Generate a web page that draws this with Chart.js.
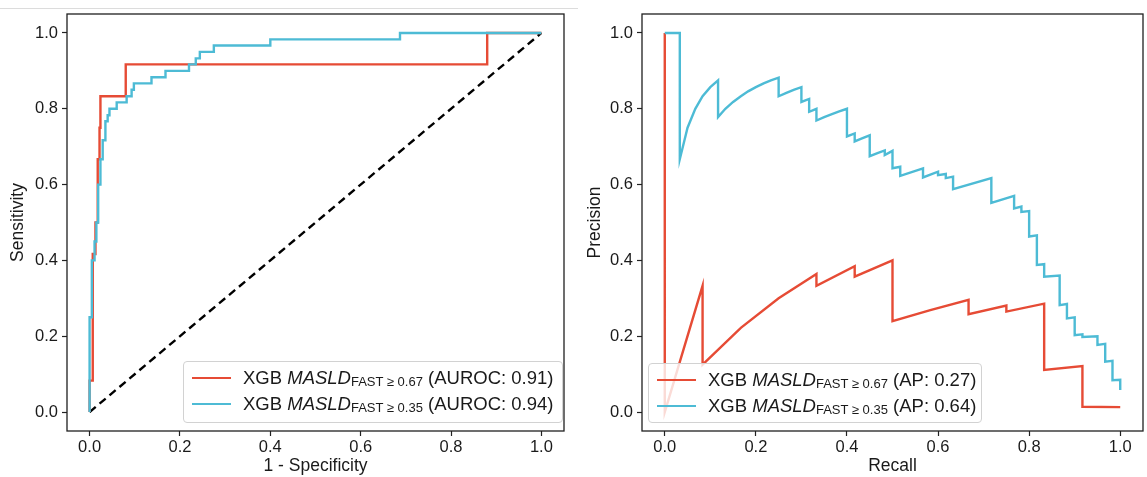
<!DOCTYPE html>
<html lang="en">
<head>
  <meta charset="UTF-8">
  <title>ROC and PR curves</title>
  <script src="https://cdn.jsdelivr.net/npm/chart.js"></script>
  <style>
    body { margin: 0; background: #fff; font-family: "Liberation Sans", Arial, sans-serif; }
    #wrap { position: relative; width: 1147px; height: 477px; overflow: hidden; }
    canvas { position: absolute; top: 0; }
    #rocChart { left: 0; }
    #prChart { left: 575px; }
    .topline { position: absolute; left: 0; top: 8px; width: 578px; height: 1px; background: #dcdcdc; }
    .legend { position: absolute; box-sizing: border-box; border: 1px solid #d2d2d2; border-radius: 4px;
              background: rgba(255, 255, 255, 0.8); color: #1a1a1a; font-size: 18.5px; z-index: 2; }
    .legend .row { position: absolute; left: 0; right: 0; height: 26px; }
    .legend .sw { position: absolute; left: 8px; top: 12px; width: 39px; height: 2.4px; }
    .legend .txt { position: absolute; top: 0; line-height: 26px; white-space: nowrap; }
    .legend sub { font-size: 13px; vertical-align: baseline; position: relative; top: 2px; line-height: 0; }
  </style>
</head>
<body>
  <div id="wrap">
    <div class="topline"></div>
    <canvas id="rocChart" width="575" height="477"></canvas>
    <canvas id="prChart" width="572" height="477"></canvas>
    <div class="legend" id="rocLegend" style="left:183px; top:361px; width:380px; height:62px;"></div>
    <div class="legend" id="prLegend" style="left:648px; top:363px; width:334px; height:60px;"></div>
  </div>
  <script>
    // axis ticks
    const tickValues = [0, 0.2, 0.4, 0.6, 0.8, 1.0];

    // series labels
    const seriesThresholds = ['0.67', '0.35'];
    const aurocValues = ['0.91', '0.94'];
    const apValues = ['0.27', '0.64'];
    const seriesColors = ['#E64B35', '#4DBBD5'];

    // ROC, MASLD FAST >= 0.67
    const rocFprA = [0, 0, 0.007, 0.007, 0.013, 0.013, 0.018, 0.018, 0.022, 0.022, 0.024, 0.024, 0.08, 0.08, 0.88, 0.88, 1];
    const rocTprA = [0, 0.083, 0.083, 0.417, 0.417, 0.5, 0.5, 0.667, 0.667, 0.75, 0.75, 0.833, 0.833, 0.917, 0.917, 1, 1];

    // ROC, MASLD FAST >= 0.35
    const rocFprB = [0, 0, 0.005, 0.005, 0.011, 0.011, 0.015, 0.015, 0.019, 0.019, 0.024, 0.024, 0.029, 0.029,
      0.035, 0.035, 0.04, 0.04, 0.044, 0.044, 0.06, 0.06, 0.082, 0.082, 0.093, 0.093, 0.098, 0.098,
      0.137, 0.137, 0.168, 0.168, 0.22, 0.22, 0.235, 0.235, 0.244, 0.244, 0.275, 0.275, 0.4, 0.4, 0.687, 0.687, 1];
    const rocTprB = [0, 0.25, 0.25, 0.4, 0.4, 0.45, 0.45, 0.5, 0.5, 0.6, 0.6, 0.667, 0.667, 0.717,
      0.717, 0.767, 0.767, 0.783, 0.783, 0.8, 0.8, 0.817, 0.817, 0.833, 0.833, 0.85, 0.85, 0.867,
      0.867, 0.883, 0.883, 0.9, 0.9, 0.917, 0.917, 0.933, 0.933, 0.95, 0.95, 0.967, 0.967, 0.983, 0.983, 1, 1];

    // chance line
    const diagX = [0, 1];
    const diagY = [0, 1];

    // PR, MASLD FAST >= 0.67
    const prRecallA = [0, 0, 0.083, 0.083, 0.167, 0.25, 0.333, 0.333, 0.417, 0.417, 0.5, 0.5, 0.583, 0.667,
      0.667, 0.75, 0.75, 0.833, 0.833, 0.917, 0.917, 1];
    const prPrecA = [1, 0, 0.333, 0.125, 0.222, 0.3, 0.364, 0.333, 0.385, 0.357, 0.4, 0.24, 0.269, 0.296,
      0.258, 0.281, 0.265, 0.286, 0.111, 0.121, 0.014, 0.013];

    // PR, MASLD FAST >= 0.35
    const prRecallB = [0, 0.033, 0.033, 0.05, 0.067, 0.083, 0.1, 0.117, 0.117, 0.133, 0.15, 0.167, 0.183, 0.2,
      0.217, 0.233, 0.25, 0.25, 0.267, 0.283, 0.3, 0.3, 0.317, 0.317, 0.333, 0.333, 0.35, 0.367, 0.383, 0.4,
      0.4, 0.417, 0.417, 0.433, 0.45, 0.45, 0.467, 0.483, 0.483, 0.5, 0.5, 0.517, 0.517, 0.567, 0.567,
      0.6, 0.6, 0.617, 0.617, 0.633, 0.633, 0.717, 0.717, 0.767, 0.767, 0.783, 0.783, 0.8, 0.8, 0.817, 0.817,
      0.833, 0.833, 0.867, 0.867, 0.883, 0.883, 0.9, 0.9, 0.917, 0.917, 0.95, 0.95, 0.967, 0.967, 0.983, 0.983, 1, 1];
    const prPrecB = [1, 1, 0.667, 0.75, 0.8, 0.833, 0.857, 0.875, 0.778, 0.8, 0.818, 0.833, 0.846, 0.857,
      0.867, 0.875, 0.882, 0.833, 0.842, 0.85, 0.857, 0.818, 0.826, 0.792, 0.8, 0.769, 0.778, 0.786, 0.793, 0.8,
      0.727, 0.735, 0.714, 0.722, 0.73, 0.675, 0.683, 0.69, 0.678, 0.689, 0.643, 0.647, 0.623, 0.643, 0.619,
      0.634, 0.625, 0.628, 0.617, 0.621, 0.588, 0.617, 0.552, 0.57, 0.537, 0.542, 0.528, 0.53, 0.463, 0.466, 0.388,
      0.39, 0.357, 0.36, 0.282, 0.285, 0.247, 0.25, 0.203, 0.205, 0.198, 0.2, 0.177, 0.18, 0.133, 0.135, 0.084, 0.085, 0.058];

    Chart.defaults.font.family = '"Liberation Sans", Arial, sans-serif';

    const framePlugin = {
      id: 'frame',
      afterDatasetsDraw(chart) {
        const { ctx, chartArea: a } = chart;
        ctx.save();
        ctx.strokeStyle = '#1f1f1f';
        ctx.lineWidth = 1.3;
        ctx.strokeRect(a.left, a.top, a.right - a.left, a.bottom - a.top);
        ctx.restore();
      }
    };

    const series = (xs, ys, color, extra) => Object.assign({
      data: xs.map((x, i) => ({ x: x, y: ys[i] })),
      borderColor: color,
      borderWidth: 2.4,
      pointRadius: 0,
      fill: false,
      tension: 0
    }, extra || {});

    const axis = (dir, title, titlePad) => ({
      type: 'linear',
      min: -0.05,
      max: 1.05,
      afterBuildTicks: s => { s.ticks = tickValues.map(v => ({ value: v })); },
      afterFit: s => { if (dir === 'x') s.height = 46; else s.width = 67; },
      grid: { drawOnChartArea: false, drawTicks: true, tickLength: 5, tickColor: '#222', tickWidth: 1.2 },
      border: { display: false },
      ticks: {
        autoSkip: false, maxRotation: 0, padding: dir === 'x' ? 2 : 4,
        color: '#1a1a1a', font: { size: 16.5 },
        callback: v => v.toFixed(1)
      },
      title: {
        display: true, text: title, color: '#1a1a1a', font: { size: 17.5 },
        padding: dir === 'x' ? { top: 0, bottom: 0 } : { top: titlePad, bottom: 0 }
      }
    });

    const makeChart = (id, datasets, xTitle, yTitle, padRight, yTitlePad) => new Chart(document.getElementById(id), {
      type: 'line',
      data: { datasets: datasets },
      options: {
        responsive: false,
        animation: false,
        layout: { padding: { top: 14, right: padRight, bottom: 0, left: 0 } },
        plugins: { legend: { display: false }, tooltip: { enabled: false } },
        scales: { x: axis('x', xTitle, 0), y: axis('y', yTitle, yTitlePad) }
      },
      plugins: [framePlugin]
    });

    makeChart('rocChart', [
      series(rocFprB, rocTprB, seriesColors[1]),
      series(rocFprA, rocTprA, seriesColors[0]),
      series(diagX, diagY, '#000', { borderDash: [8, 5], borderWidth: 2.4 })
    ], '1 - Specificity', 'Sensitivity', 11, 8);

    makeChart('prChart', [
      series(prRecallB, prPrecB, seriesColors[1]),
      series(prRecallA, prPrecA, seriesColors[0])
    ], 'Recall', 'Precision', 4, 10);

    // legends with italic name and subscript
    const fillLegend = (id, metric, values) => {
      const box = document.getElementById(id);
      seriesThresholds.forEach((t, i) => {
        const row = document.createElement('div');
        row.className = 'row';
        row.style.top = (3 + i * 26) + 'px';
        row.innerHTML = '<span class="sw" style="background:' + seriesColors[i] + '"></span>' +
          '<span class="txt" style="left:59px">XGB <i>MASLD</i><sub>FAST \u2265 ' + t + '</sub> (' +
          metric + ': ' + values[i] + ')</span>';
        box.appendChild(row);
      });
    };
    fillLegend('rocLegend', 'AUROC', aurocValues);
    fillLegend('prLegend', 'AP', apValues);
  </script>
</body>
</html>
